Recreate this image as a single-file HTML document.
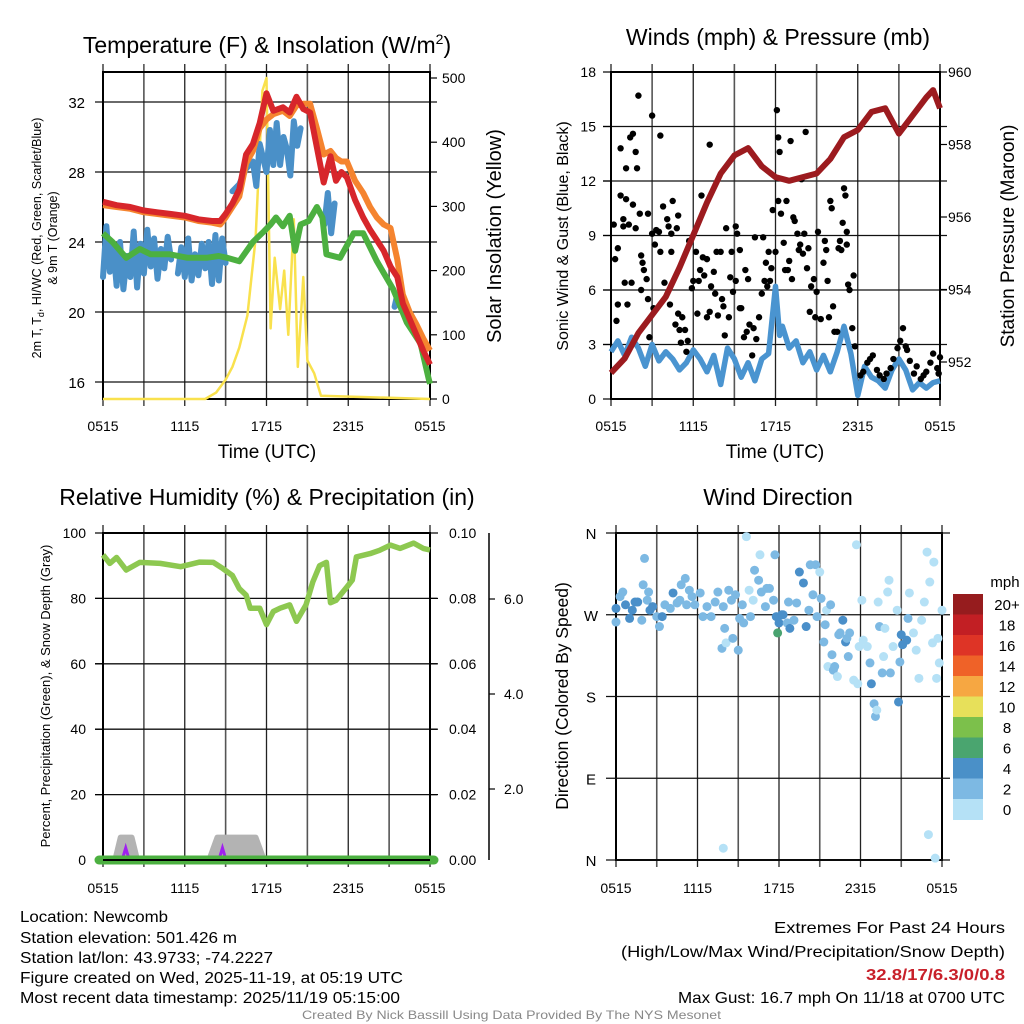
<!DOCTYPE html>
<html><head><meta charset="utf-8"><style>
html,body{margin:0;padding:0;background:#fff;}
svg{display:block;font-family:"Liberation Sans",sans-serif;}
</style></head><body>
<svg id="chart" width="1024" height="1024" viewBox="0 0 1024 1024" xmlns="http://www.w3.org/2000/svg">
<rect x="0" y="0" width="1024" height="1024" fill="#fff"/>
<text x="267" y="53" font-size="23" text-anchor="middle">Temperature (F) &amp; Insolation (W/m<tspan font-size="14" dy="-9">2</tspan><tspan dy="9">)</tspan></text>
<text x="778" y="45" font-size="23" text-anchor="middle">Winds (mph) &amp; Pressure (mb)</text>
<text x="267" y="505" font-size="23" text-anchor="middle">Relative Humidity (%) &amp; Precipitation (in)</text>
<text x="778" y="505" font-size="23" text-anchor="middle">Wind Direction</text>
<text x="267" y="458" font-size="19" text-anchor="middle">Time (UTC)</text>
<text x="775" y="458" font-size="19" text-anchor="middle">Time (UTC)</text>
<text transform="translate(41,238) rotate(-90)" font-size="12.5" text-anchor="middle">2m T, T<tspan font-size="9" dy="3">d</tspan><tspan dy="-3">, HI/WC (Red, Green, Scarlet/Blue)</tspan></text>
<text transform="translate(57,238) rotate(-90)" font-size="12.5" text-anchor="middle">&amp; 9m T (Orange)</text>
<text transform="translate(501,236) rotate(-90)" font-size="20" text-anchor="middle">Solar Insolation (Yellow)</text>
<text transform="translate(568,236) rotate(-90)" font-size="16" text-anchor="middle">Sonic Wind &amp; Gust (Blue, Black)</text>
<text transform="translate(1014,236) rotate(-90)" font-size="19" text-anchor="middle">Station Pressure (Maroon)</text>
<text transform="translate(50,696) rotate(-90)" font-size="13" text-anchor="middle">Percent, Precipitation (Green), &amp; Snow Depth (Gray)</text>
<text transform="translate(568,696) rotate(-90)" font-size="17.5" text-anchor="middle">Direction (Colored By Speed)</text>
<g font-size="15.5">
<text x="20" y="922" textLength="148" lengthAdjust="spacingAndGlyphs">Location: Newcomb</text>
<text x="20" y="943" textLength="217" lengthAdjust="spacingAndGlyphs">Station elevation: 501.426 m</text>
<text x="20" y="963" textLength="253" lengthAdjust="spacingAndGlyphs">Station lat/lon: 43.9733; -74.2227</text>
<text x="20" y="983" textLength="383" lengthAdjust="spacingAndGlyphs">Figure created on Wed, 2025-11-19, at 05:19 UTC</text>
<text x="20" y="1003" textLength="380" lengthAdjust="spacingAndGlyphs">Most recent data timestamp: 2025/11/19 05:15:00</text>
</g>
<g font-size="16">
<text x="774" y="933" textLength="231" lengthAdjust="spacingAndGlyphs">Extremes For Past 24 Hours</text>
<text x="621" y="957" textLength="384" lengthAdjust="spacingAndGlyphs">(High/Low/Max Wind/Precipitation/Snow Depth)</text>
<text x="866" y="980" textLength="139" lengthAdjust="spacingAndGlyphs" fill="#c8202a" font-weight="bold">32.8/17/6.3/0/0.8</text>
<text x="678" y="1003" textLength="327" lengthAdjust="spacingAndGlyphs">Max Gust: 16.7 mph On 11/18 at 0700 UTC</text>
</g>
<text x="302" y="1019" font-size="12" fill="#888" textLength="419" lengthAdjust="spacingAndGlyphs">Created By Nick Bassill Using Data Provided By The NYS Mesonet</text>
<g id="layer"></g>
</svg>
<script>
const timeTickLabels = ["0515","1115","1715","2315","0515"];
const tempTicks = [16,20,24,28,32];
const solarTicks = [0,100,200,300,400,500];
const windTicks = [0,3,6,9,12,15,18];
const pressTicks = [952,954,956,958,960];
const rhTicks = [0,20,40,60,80,100];
const precipTicks = ["0.00","0.02","0.04","0.06","0.08","0.10"];
const snowTicks = [2.0,4.0,6.0];
const dirLabels = ["N","E","S","W","N"];
const dirTickDeg = [0,90,180,270,360];

const tHours = [0,1,2,3,4,5,6,7,8,8.6,9,9.5,10,10.5,11,11.5,12,12.5,13.2,13.7,14.2,14.7,15.2,15.7,16.2,16.7,17.1,17.5,17.9,18.5,19.1,19.6,20.1,20.6,21.1,21.6,22,22.5,23,23.5,24];
const redT = [26.3,26.1,26.0,25.8,25.7,25.6,25.5,25.3,25.2,25.2,25.6,26.2,27.0,29.0,29.6,30.8,32.5,31.5,31.7,31.4,32.3,31.6,31.4,29.4,27.4,28.9,27.5,28.0,27.7,26.4,25.4,24.7,24.1,23.5,22.6,22.0,20.5,19.6,18.7,17.8,17.0];
const orangeT = [26.1,26.0,25.9,25.7,25.6,25.5,25.4,25.2,25.1,25.0,25.4,26.0,26.6,28.5,29.2,30.5,31.0,31.3,31.5,31.2,31.8,31.9,31.9,30.5,29.0,29.2,28.8,28.6,28.6,27.5,26.8,26.0,25.4,25.0,24.8,23.0,21.0,20.0,19.3,18.5,17.8];
const gHours = [0,0.7,1.7,2.7,3.5,4.9,6.2,7.6,8.5,9.1,10,11,11.8,12.3,12.7,13.2,13.7,14.1,14.5,15.1,15.7,16.1,16.4,17.4,18.4,19.1,20.1,21.3,22.3,23.3,23.9,24];
const greenT = [24.5,24.0,23.1,23.6,23.3,23.3,23.1,23.1,23.2,23.1,22.9,24.0,24.6,25.0,25.4,24.9,25.5,23.5,25.0,25.2,26.0,25.4,23.3,23.1,24.5,24.5,22.9,21.3,19.4,18.2,16.2,15.9];
const bHours = [0,0.25,0.5,0.75,1,1.25,1.5,1.75,2,2.25,2.5,2.75,3,3.25,3.5,3.75,4,4.25,4.5,4.75,5,5.25,5.5,5.75,6,6.25,6.5,6.75,7,7.25,7.5,7.75,8,8.25,8.5,8.75,9,9.25,9.5,10,10.5,11,11.25,11.5,12,12.25,12.5,12.75,13,13.25,13.5,13.75,14,14.25,14.5,14.75,15,15.25,15.5,16,16.25,16.5,16.75,17,17.5,21.2,21.4,21.6,22];
const blueT = [22.0,24.9,22.3,23.8,21.5,24.0,21.3,23.2,22.0,24.6,21.4,23.9,22.2,24.7,22.6,24.2,21.9,23.6,22.5,24.3,23.0,null,22.2,23.7,22.0,24.2,21.8,23.3,22.1,23.9,22.5,24.0,21.6,24.4,21.8,24.2,22.8,null,26.9,27.3,28.2,28.6,27.2,29.6,28.0,30.4,28.4,30.8,28.4,30.0,29.3,27.8,30.9,29.5,30.5,null,null,null,null,null,25.0,26.8,24.5,26.2,null,null,20.3,21.0,20.0];
const solarHours = [0,7.5,8.3,9,9.5,10,10.6,11.2,11.7,12,12.3,12.6,13,13.3,13.6,14,14.3,14.7,15,15.5,16,24];
const solar = [0,0,10,30,50,80,130,250,480,500,110,220,140,200,100,280,50,190,60,40,5,0];

const pHours = [0,1,2,3,4,5,6,7,8,9,10,11,12,13,14,15,16,17,18,19,20,21,22,23,23.5,24];
const pressure = [951.7,952.1,952.8,953.3,953.8,954.6,955.5,956.4,957.2,957.7,957.9,957.4,957.1,957.0,957.1,957.2,957.6,958.2,958.4,958.9,959.0,958.3,958.8,959.3,959.5,959.0];
const wHours = [0,0.5,1,1.5,2,2.5,3,3.5,4,4.5,5,5.5,6,6.5,7,7.5,8,8.5,9,9.5,10,10.5,11,11.5,12,12.3,12.5,13,13.5,14,14.5,15,15.5,16,16.5,17,17.5,18,18.5,19,19.5,20,20.5,21,21.5,22,22.5,23,23.5,24];
const windSpd = [2.6,3.2,2.4,3.4,2.8,1.8,3.0,2.1,2.6,2.2,1.6,2.0,2.7,2.2,1.5,2.4,0.8,2.8,2.2,1.2,2.0,1.0,2.2,2.5,6.2,3.5,4.0,2.8,3.2,2.0,2.6,1.6,2.4,1.5,2.6,4.0,2.5,0.2,1.8,1.2,1.0,0.6,1.6,2.2,1.6,0.5,0.9,0.6,0.9,1.0];
const gustHours = [0.2,0.3,0.5,0.5,0.4,0.7,0.7,0.9,0.9,1.0,1.1,1.1,1.2,1.3,1.4,1.5,1.6,1.6,1.8,1.8,1.9,2.0,2.1,2.2,2.2,2.3,2.4,2.6,2.7,2.7,2.8,3.0,3.0,3.1,3.2,3.3,3.5,3.6,3.6,3.8,3.9,4.1,4.2,4.3,4.4,4.4,4.5,4.7,4.8,4.9,4.9,5.0,5.1,5.2,5.4,5.5,5.6,5.7,5.9,6.0,6.2,6.3,6.4,6.5,6.6,6.7,6.8,7.0,7.0,7.2,7.2,7.3,7.5,7.6,7.7,7.8,8.0,8.1,8.2,8.3,8.4,8.6,8.7,8.8,8.9,9.1,9.1,9.2,9.4,9.4,9.5,9.7,9.8,9.9,10.0,10.1,10.3,10.4,10.5,10.6,10.8,11.0,11.1,11.2,11.3,11.4,11.5,11.6,11.7,11.8,12.0,12.1,12.2,12.2,12.3,12.4,12.6,12.7,12.8,12.9,13.0,13.1,13.2,13.3,13.4,13.6,13.7,13.8,13.9,14.0,14.1,14.2,14.3,14.4,14.5,14.6,14.8,14.9,15.0,15.1,15.3,15.5,15.6,15.7,15.8,15.9,16.0,16.1,16.2,16.3,16.5,16.6,16.7,16.8,16.9,17.0,17.1,17.2,17.2,17.3,17.4,17.6,17.7,17.8,18.2,18.4,18.7,18.9,19.1,19.4,19.6,19.9,20.1,20.4,20.6,20.9,21.1,21.3,21.5,21.6,21.8,22.1,22.3,22.6,22.8,23.0,23.3,23.5,23.8,24.0,23.9];
const gust = [9.6,7.7,8.3,5.2,4.3,11.2,13.8,9.5,9.9,6.4,12.7,11.0,5.2,9.6,14.4,6.4,10.7,14.6,9.4,13.6,12.7,16.7,10.2,6.0,7.9,7.5,7.1,6.6,5.5,10.2,3.4,9.1,15.6,5.0,8.5,9.3,9.2,14.5,8.1,10.6,6.4,9.9,9.5,5.2,9.1,8.1,10.9,4.1,9.4,4.7,10.1,3.8,3.1,4.5,3.8,2.6,3.2,8.7,6.1,6.5,8.1,4.7,6.5,7.1,11.2,7.8,6.8,7.7,4.5,14.0,4.8,6.2,7.0,5.8,8.1,4.6,8.1,5.5,5.1,3.5,9.4,4.5,6.7,8.1,5.9,6.5,9.5,9.1,8.2,5.0,5.0,3.4,7.1,3.7,6.6,4.1,2.4,3.9,8.9,3.3,4.5,5.8,8.9,6.5,7.5,6.2,8.1,6.5,7.2,10.4,8.1,15.9,10.9,14.4,13.6,10.2,8.6,7.1,10.9,7.1,7.6,14.2,6.6,10.0,9.8,9.1,8.2,8.5,12.1,8.0,9.1,14.7,7.2,8.3,4.8,6.2,6.6,4.5,5.9,9.2,4.4,7.5,8.7,8.2,6.5,4.5,10.9,10.5,5.1,3.7,3.7,8.3,8.7,8.2,9.7,11.6,11.2,9.2,8.5,6.3,6.0,3.9,6.8,2.9,1.3,1.5,2.0,2.2,2.4,1.6,1.3,1.1,1.4,1.7,2.2,2.8,3.2,3.9,2.9,2.7,2.1,1.4,1.8,1.1,1.3,1.5,2.0,2.5,1.7,2.3,1.4];

const rhHours = [0,0.5,1,1.7,2.7,4.2,5.7,7.1,8.1,8.8,9.5,10,10.5,10.8,11.5,12,12.5,13,13.7,14.2,14.9,15.4,15.9,16.4,16.7,17.1,17.9,18.3,18.6,19.6,20.3,21.1,21.8,22.8,23.5,24];
const rh = [93.3,90.7,92.5,88.7,91,90.7,89.7,91.1,91,89.1,87,83,81,77,77,72,76,77,78,73,78,85,90,91,78.7,79.4,83.5,85.6,92.7,93.7,94.7,96.3,95.3,96.9,95.3,94.8];
const snowHours = [0.9,1.3,2.1,2.5,7.8,8.4,11.2,11.8];
const snowDepth = [0,0.8,0.8,0,0,0.8,0.8,0];
const precipHours = [0,24];
const precip = [0,0];

const dirHours = [0,0,0.3,0.5,0.7,1.0,1.2,1.4,1.6,1.9,2.0,2.1,2.3,2.4,2.5,2.7,3.0,3.2,3.4,3.6,4.0,4.2,4.5,4.7,4.8,5.1,5.2,5.4,5.6,5.8,6.2,6.4,6.7,7.0,7.3,7.5,7.8,7.9,8.0,8.1,8.3,8.5,8.6,8.8,9.0,9.1,9.3,9.4,9.6,9.8,9.9,10.1,10.2,10.5,10.6,10.7,11.0,11.1,11.3,11.6,11.7,11.8,11.9,12.0,12.2,12.3,12.6,12.7,12.8,13.1,13.3,13.5,13.8,14.0,14.2,14.3,14.5,14.7,14.8,15.0,15.1,15.3,15.4,15.5,15.6,15.8,15.9,16.0,16.1,16.3,16.4,16.5,16.7,16.9,17.0,17.1,17.2,17.5,17.7,17.8,17.9,18.1,18.2,18.5,18.7,18.8,19.0,19.1,19.2,19.3,19.4,19.6,19.7,19.8,20.0,20.1,20.2,20.4,20.7,20.8,20.9,21.0,21.1,21.4,21.5,21.6,21.9,22.1,22.3,22.5,22.7,22.9,23.0,23.1,23.3,23.4,23.5,23.6,23.7,23.8,24.0,7.9];
const dirDeg = [277,262,290,295,281,266,275,284,284,264,303,332,286,295,275,279,268,257,268,281,277,294,283,286,303,310,281,297,290,281,294,268,279,268,284,295,233,279,255,239,297,286,244,292,231,266,281,261,356,297,268,286,319,308,336,295,279,299,299,286,336,268,250,261,270,270,261,284,255,264,283,317,305,257,275,325,292,325,268,317,288,240,259,275,213,281,226,209,213,202,248,250,264,240,244,224,250,198,347,194,235,286,242,235,217,194,172,158,165,284,257,206,224,255,295,308,206,235,275,174,218,248,237,242,266,294,250,231,200,264,284,339,28,306,239,328,2,200,244,217,275,13];
const dirSpd = [4,2,2,2,4,4,4,4,4,2,2,2,2,2,4,4,2,2,4,2,2,4,2,2,2,2,2,2,2,2,2,2,2,2,2,2,2,2,2,0,2,2,2,2,2,2,2,2,0,0,2,0,2,2,0,2,2,2,2,2,2,4,6,4,4,4,2,2,4,2,2,4,4,4,2,2,2,2,2,0,2,2,2,0,0,2,2,2,2,0,2,2,4,4,2,2,2,0,0,0,0,0,0,0,2,4,2,2,0,0,2,2,0,0,0,0,2,0,0,4,2,4,4,4,2,0,0,0,0,0,0,0,0,0,0,0,0,0,0,0,0,0,0];
const cbLabels = ["20+","18","16","14","12","10","8","6","4","2","0"];

const NS = "http://www.w3.org/2000/svg";
const layer = document.getElementById("layer");
function mk(tag, attrs, parent){const e=document.createElementNS(NS,tag);for(const k in attrs)e.setAttribute(k,attrs[k]);(parent||layer).appendChild(e);return e;}
function lin(d0,d1,r0,r1){return v=>r0+(v-d0)*(r1-r0)/(d1-d0);}
function pathFrom(xs,ys,fx,fy){let d="",pen=false;for(let i=0;i<xs.length;i++){if(ys[i]===null||ys[i]===undefined){pen=false;continue;}d+=(pen?"L":"M")+fx(xs[i]).toFixed(1)+","+fy(ys[i]).toFixed(1);pen=true;}return d;}
const speedColor = {0:"#b5e1f6",2:"#7db9e3",4:"#4a8fc9",6:"#4aa370"};
const cbColors = ["#961c1e","#c21f24","#de3426","#ef6228","#f6a742","#e7e05a","#7cc04b","#4aa56f","#4a90c8","#7db9e3","#b5e1f6"];

function frame(name,L,R,T,B,vlines,hlines){
  const g=mk("g",{});
  
  
  vlines.forEach((x,i)=>{const l=mk("line",{x1:x,x2:x,y1:T-8,y2:B+7,stroke:i%2?"#555":"#222","stroke-width":i%2?1.6:1.3},g);
    
    });
  hlines.forEach(y=>{const l=mk("line",{x1:L-8,x2:R+7,y1:y,y2:y,stroke:"#111","stroke-width":1.3},g);
    
    });
  const b=mk("rect",{x:L,y:T,width:R-L,height:B-T,fill:"none",stroke:"#000","stroke-width":2},g);
  
  
}
function xLabels(name,fx,y){
  [0,6,12,18,24].forEach((h,i)=>{const t=mk("text",{x:fx(h),y:y,"font-size":14,"text-anchor":"middle"});t.textContent=timeTickLabels[i];
    
    });
}
function vgrid(fx){return [0,3,6,9,12,15,18,21,24].map(fx);}

const x1=lin(0,24,103,430), yT=lin(32,28,102,172), yS=lin(0,500,399,78);
frame("temp",103,430,72,399,vgrid(x1),tempTicks.map(yT));
tempTicks.forEach(v=>{const t=mk("text",{x:85,y:yT(v)+6,"font-size":15,"text-anchor":"end"});t.textContent=v;
  
  });
solarTicks.forEach(v=>{const t=mk("text",{x:442,y:yS(v)+5,"font-size":14});t.textContent=v;
  
  
  const l=mk("line",{x1:430,x2:437,y1:yS(v),y2:yS(v),stroke:"#000","stroke-width":1.2});
  
  });
xLabels("temp",x1,431);
let s;
s=mk("path",{d:pathFrom(solarHours,solar,x1,yS),fill:"none",stroke:"#f9e14d","stroke-width":2.5,"stroke-linejoin":"round"});


s=mk("path",{d:pathFrom(bHours,blueT,x1,yT),fill:"none",stroke:"#4a90c8","stroke-width":6,"stroke-linejoin":"round","stroke-linecap":"round"});


s=mk("path",{d:pathFrom(gHours,greenT,x1,yT),fill:"none",stroke:"#4cb040","stroke-width":6,"stroke-linejoin":"round"});


s=mk("path",{d:pathFrom(tHours,orangeT,x1,yT),fill:"none",stroke:"#f5842f","stroke-width":6,"stroke-linejoin":"round"});


s=mk("path",{d:pathFrom(tHours,redT,x1,yT),fill:"none",stroke:"#d7262b","stroke-width":6,"stroke-linejoin":"round"});



const x2=lin(0,24,611,940), yW=lin(0,18,399,72), yP=lin(952,960,362,72);
frame("wind",611,940,72,399,vgrid(x2),[3,6,9,12,15].map(yW));
windTicks.forEach(v=>{const t=mk("text",{x:596,y:yW(v)+5,"font-size":14,"text-anchor":"end"});t.textContent=v;
  
  
  const l=mk("line",{x1:603,x2:611,y1:yW(v),y2:yW(v),stroke:"#000","stroke-width":1.2});
  
  });
pressTicks.forEach(v=>{const t=mk("text",{x:948,y:yP(v)+5,"font-size":14});t.textContent=v;
  
  
  const l=mk("line",{x1:940,x2:947,y1:yP(v),y2:yP(v),stroke:"#000","stroke-width":1.2});
  
  });
xLabels("wind",x2,431);
s=mk("path",{d:pathFrom(wHours,windSpd,x2,yW),fill:"none",stroke:"#4a94d0","stroke-width":5.5,"stroke-linejoin":"round"});


gustHours.forEach((h,i)=>{const c=mk("circle",{cx:x2(h),cy:yW(gust[i]),r:3.2,fill:"#000"});
  
  });
s=mk("path",{d:pathFrom(pHours,pressure,x2,yP),fill:"none",stroke:"#9c1b1f","stroke-width":6,"stroke-linejoin":"round"});



const x3=lin(0,24,103,430), yR=lin(0,100,860,533), ySn=lin(0,1,860,832);
frame("rh",103,430,533,860,vgrid(x3),[20,40,60,80].map(yR));
rhTicks.forEach((v,i)=>{const t=mk("text",{x:86,y:yR(v)+5,"font-size":14,"text-anchor":"end"});t.textContent=v;
  
  
  const l=mk("line",{x1:95,x2:103,y1:yR(v),y2:yR(v),stroke:"#000","stroke-width":1.2});
  
  
  const t2=mk("text",{x:449,y:yR(v)+5,"font-size":14});t2.textContent=precipTicks[i];
  
  
  const l2=mk("line",{x1:430,x2:438,y1:yR(v),y2:yR(v),stroke:"#000","stroke-width":1.2});
  
  });
const ySD=lin(2,6,789,599);
s=mk("line",{x1:489,x2:489,y1:533,y2:860,stroke:"#000","stroke-width":1.5});


snowTicks.forEach(v=>{const t=mk("text",{x:504,y:ySD(v)+5,"font-size":14});t.textContent=v.toFixed(1);
  
  
  const l=mk("line",{x1:489,x2:495,y1:ySD(v),y2:ySD(v),stroke:"#000","stroke-width":1.2});
  
  });
xLabels("rh",x3,893);
for(let k=0;k<snowHours.length;k+=4){
  const hs=snowHours.slice(k,k+4), vs=snowDepth.slice(k,k+4);
  const p=mk("path",{d:pathFrom(hs,vs,x3,ySn)+"Z",fill:"#b3b3b3",stroke:"#b3b3b3","stroke-width":6,"stroke-linejoin":"round"});
  
  
  const m=mk("path",{d:"M"+(x3(hs[1])+2)+","+(ySn(0)-2)+"l3,-10l3,10",fill:"none",stroke:"#a020f0","stroke-width":3});
  
  
}
s=mk("path",{d:pathFrom(precipHours,precip,lin(0,24,99,434),yR),fill:"none",stroke:"#4cb040","stroke-width":9,"stroke-linecap":"round"});


s=mk("line",{x1:103,x2:430,y1:860,y2:860,stroke:"#000","stroke-width":2});


s=mk("path",{d:pathFrom(rhHours,rh,x3,yR),fill:"none",stroke:"#8dc850","stroke-width":5.5,"stroke-linejoin":"round"});



const x4=lin(0,24,616,942), yD=lin(0,360,860,533);
frame("dir",616,942,533,860,vgrid(x4),[]);
dirTickDeg.forEach((d,i)=>{const l=mk("line",{x1:606,x2:950,y1:yD(d),y2:yD(d),stroke:"#111","stroke-width":1.3});
  
  
  const t=mk("text",{x:591,y:yD(d)+6,"font-size":15,"text-anchor":"middle"});t.textContent=dirLabels[i];
  
  });
xLabels("dir",x4,893);
dirHours.forEach((h,i)=>{const c=mk("circle",{cx:x4(h),cy:yD(dirDeg[i]),r:4.5,fill:speedColor[dirSpd[i]]});
  
  });
const cbTop=594, cbH=20.5;
const mt=mk("text",{x:1005,y:587,"font-size":15,"text-anchor":"middle"});mt.textContent="mph";


cbLabels.forEach((lab,i)=>{const r=mk("rect",{x:953,y:cbTop+i*cbH,width:30,height:cbH+0.5,fill:cbColors[i]});
  
  
  const t=mk("text",{x:1007,y:cbTop+i*cbH+16,"font-size":15,"text-anchor":"middle"});t.textContent=lab;
  
  });
</script>
</body></html>
